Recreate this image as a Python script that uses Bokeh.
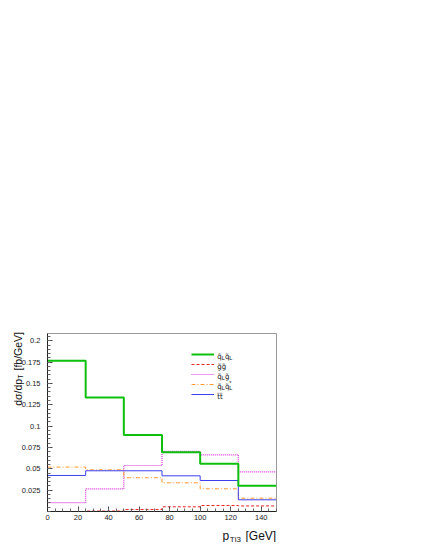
import math
from bokeh.plotting import figure
from bokeh.models import (Range1d, FixedTicker, Label, Legend, LegendItem)
from bokeh.embed import file_html
from bokeh.resources import INLINE

# ---------------- data ----------------
bin_edges = [0, 25, 50, 75, 100, 125, 150]
sq_sq = [0.1765, 0.1336, 0.0895, 0.0695, 0.0559, 0.0301]   # q~L q~L
gl_gl = [0.0, 0.0005, 0.0023, 0.0055, 0.0070, 0.0065]      # g~g~
sq_gl = [0.0105, 0.0266, 0.0539, 0.0705, 0.0664, 0.0465]   # q~L g~
sq_sqbar = [0.0520, 0.0488, 0.0395, 0.0336, 0.0266, 0.0156]  # q~L q~L*
st_st = [0.0422, 0.0477, 0.0477, 0.0418, 0.0363, 0.0137]   # t~t~
y_ticks = [0.025, 0.05, 0.075, 0.1, 0.125, 0.15, 0.175, 0.2]
y_tick_labels = ["0.025", "0.05", "0.075", "0.1", "0.125", "0.15", "0.175", "0.2"]
x_ticks = [0, 20, 40, 60, 80, 100, 120, 140]

XMIN, XMAX = 0, 150
YMIN, YMAX = 0.0, 0.2085

# ---------------- layout ----------------
W, H = 417, 542
BL, BR, BT, BB = 47, 141, 333, 31
FL = BL                     # frame left in canvas px
FW = W - BL - BR            # frame width
FT = BT                     # frame top in canvas px
FH = H - BT - BB            # frame height
FB = FT + FH


def dx(px):
    return XMIN + (px - FL) / FW * (XMAX - XMIN)


def dy(py):
    return YMIN + (FB - py) / FH * (YMAX - YMIN)


p = figure(width=W, height=H, output_backend="svg", toolbar_location=None,
           x_range=Range1d(XMIN, XMAX), y_range=Range1d(YMIN, YMAX),
           min_border_left=BL, min_border_right=BR, min_border_top=BT,
           min_border_bottom=BB)
p.background_fill_color = "white"
p.border_fill_color = "white"
p.outline_line_color = "#9a9a9a"
p.outline_line_width = 1
p.xgrid.visible = False
p.ygrid.visible = False

FONT = "Liberation Sans"
GFONT = "DejaVu Sans"

# axes
p.xaxis.ticker = FixedTicker(ticks=x_ticks, minor_ticks=list(range(0, 151, 5)))
p.yaxis.ticker = FixedTicker(ticks=y_ticks,
                             minor_ticks=[round(i * 0.005, 3) for i in range(0, 42)])
p.yaxis.major_label_overrides = {t: l for t, l in zip(y_ticks, y_tick_labels)}
for ax in (p.xaxis[0], p.yaxis[0]):
    ax.axis_line_color = "#222222"
    ax.axis_line_width = 1
    ax.major_tick_in = 5
    ax.major_tick_out = 0
    ax.minor_tick_in = 3
    ax.minor_tick_out = 0
    ax.major_tick_line_color = "#444444"
    ax.minor_tick_line_color = "#666666"
    ax.major_label_text_font = FONT
    ax.major_label_text_font_size = "7.5px"
    ax.major_label_text_color = "#222222"
p.yaxis.major_label_standoff = 7
p.xaxis.major_label_standoff = 3

# histograms (step outlines)
def ext(v):
    return list(v) + [v[-1]]

r_gl = p.step(bin_edges, ext(gl_gl), mode="after", line_color="#ee2222",
              line_width=1, line_dash="3 2")
r_sqgl = p.step(bin_edges, ext(sq_gl), mode="after", line_color="#dd33dd",
                line_width=1.2, line_dash="1 1")
r_sqbar = p.step(bin_edges, ext(sq_sqbar), mode="after", line_color="#ff9933",
                 line_width=1, line_dash="4 2 1 2")
r_st = p.step(bin_edges, ext(st_st), mode="after", line_color="#3f3fee",
              line_width=1)
r_sq = p.step(bin_edges, ext(sq_sq), mode="after", line_color="#0cc00c",
              line_width=2)

# legend (glyph samples from the library; texts drawn as labels)
ROW0 = 353.7
ROWH = 10
LEG_X = 191
legend = Legend(items=[LegendItem(label=" ", renderers=[r]) for r in
                       (r_sq, r_gl, r_sqgl, r_sqbar, r_st)],
                location=(LEG_X - FL, FB - (ROW0 - ROWH / 2 + 5 * ROWH)),
                orientation="vertical", glyph_width=23, glyph_height=ROWH,
                label_height=ROWH, label_width=2, label_standoff=0,
                label_text_font_size="5px", spacing=0, padding=0, margin=0,
                border_line_alpha=0, background_fill_alpha=0)
p.add_layout(legend, "center")


def txt(px, py, s, size, align="left", angle=0.0, baseline="alphabetic",
        place="center", font=FONT):
    lab = Label(x=dx(px), y=dy(py), text=s, text_font=font,
                text_font_size=f"{size}px", text_align=align,
                text_baseline=baseline, angle=angle, text_color="#111111")
    p.add_layout(lab, place)


TX = 216.8
MS, SS = 7, 5.5
sub_dy, main_dy = 4.2, 2.6
q = "q\u0303"
g = "g\u0303"
t = "t\u0303"
# row 1: q~L q~L
r = ROW0
txt(TX, r + main_dy, q, MS, font=GFONT); txt(TX + 4.4, r + sub_dy, "L", SS)
txt(TX + 7.6, r + main_dy, q, MS, font=GFONT); txt(TX + 12.0, r + sub_dy, "L", SS)
# row 2: g~g~
r = ROW0 + ROWH
txt(TX, r + main_dy, g + g, MS, font=GFONT)
# row 3: q~L g~
r = ROW0 + 2 * ROWH
txt(TX, r + main_dy, q, MS, font=GFONT); txt(TX + 4.4, r + sub_dy, "L", SS)
txt(TX + 7.6, r + main_dy, g, MS, font=GFONT)
# row 4: q~L q~L*
r = ROW0 + 3 * ROWH
txt(TX, r + main_dy, q, MS, font=GFONT); txt(TX + 4.4, r + sub_dy, "L", SS)
txt(TX + 7.6, r + main_dy, q, MS, font=GFONT); txt(TX + 12.0, r + sub_dy, "L", SS)
txt(TX + 12.0, r - 1.5, "*", SS)
# row 5: t~t~
r = ROW0 + 4 * ROWH
txt(TX, r + main_dy, t + t, MS, font=GFONT)

# Axis titles: placed in the (large, empty) top panel so they are not clipped
# to the frame; their positions come from the plot scales.
ANG = math.pi / 2
txt(17.5, 405.3, "d\u03c3/dp", 10.5, align="left", angle=ANG, place="above")
txt(20.3, 378.3, "T", 7, align="left", angle=ANG, place="above")
txt(17.5, FT - 1.5, "[fb/GeV]", 10.5, align="right", angle=ANG, place="above")

txt(222.0, 535.5, "p", 12, place="above")
txt(229.3, 538.5, "Tj3", 8, place="above")
txt(FL + FW - 0.3, 535.5, "[GeV]", 12, align="right", place="above")

open("out.html", "w").write(file_html(p, INLINE))
